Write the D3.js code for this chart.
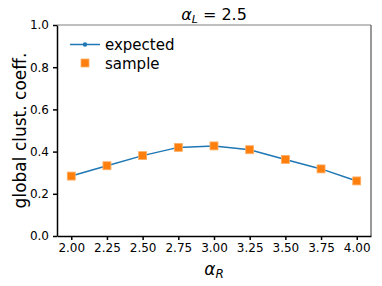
<!DOCTYPE html>
<html>
<head>
<meta charset="utf-8">
<script src="https://cdn.jsdelivr.net/npm/d3@7"></script>
<style>
  body { margin: 0; background: #fff; }
  text { font-family: "DejaVu Sans", sans-serif; fill: #000; }
</style>
</head>
<body>
<svg width="382" height="286"></svg>
<script>
var alphaR = [2.00, 2.25, 2.50, 2.75, 3.00, 3.25, 3.50, 3.75, 4.00];
var expected = [0.284, 0.333, 0.381, 0.420, 0.427, 0.409, 0.363, 0.318, 0.261];
var sample = [0.284, 0.333, 0.381, 0.420, 0.427, 0.409, 0.363, 0.318, 0.261];
var xTicks = [2.00, 2.25, 2.50, 2.75, 3.00, 3.25, 3.50, 3.75, 4.00];
var yTicks = [0.0, 0.2, 0.4, 0.6, 0.8, 1.0];

function main() {
    var svg = d3.select('svg');
    var left = 57, right = 371, top = 25, bottom = 236;

    var xScale = d3.scaleLinear().domain([1.9, 4.1]).range([left, right]);
    var yScale = d3.scaleLinear().domain([0, 1]).range([bottom, top]);

    // frame: top and right lighter
    svg.append('line').attr('x1', left).attr('x2', right).attr('y1', top).attr('y2', top)
       .attr('stroke', '#aaaaaa').attr('stroke-width', 1.5);
    svg.append('line').attr('x1', right).attr('x2', right).attr('y1', top).attr('y2', bottom)
       .attr('stroke', '#555555').attr('stroke-width', 1.2);

    var xAxis = svg.append('g') //x axis
        .attr('transform', 'translate(0,' + bottom + ')')
        .call(d3.axisBottom(xScale).tickValues(xTicks).tickFormat(d3.format('.2f')).tickSize(4).tickSizeOuter(0));
    var yAxis = svg.append('g') //y axis
        .attr('transform', 'translate(' + left + ',0)')
        .call(d3.axisLeft(yScale).tickValues(yTicks).tickFormat(d3.format('.1f')).tickSize(4).tickSizeOuter(0));

    [xAxis, yAxis].forEach(function(ax) {
        ax.select('.domain').attr('stroke', '#000').attr('stroke-width', 1.5);
        ax.selectAll('.tick line').attr('stroke', '#000').attr('stroke-width', 1.5);
        ax.selectAll('.tick text').style('font-size', '12px').style('font-family', '"DejaVu Sans", sans-serif');
    });
    xAxis.selectAll('.tick text').attr('y', 7);
    yAxis.selectAll('.tick text').attr('x', -8);

    // expected line
    var line = d3.line()
        .x(function(d, i) { return xScale(alphaR[i]); })
        .y(function(d) { return yScale(d); });
    svg.append('path').datum(expected)
       .attr('d', line).attr('fill', 'none')
       .attr('stroke', '#1f77b4').attr('stroke-width', 1.5);
    svg.selectAll('.dot').data(expected).enter().append('circle')
       .attr('cx', function(d, i) { return xScale(alphaR[i]); })
       .attr('cy', function(d) { return yScale(d); })
       .attr('r', 2).attr('fill', '#1f77b4');

    // sample squares
    var s = 8;
    svg.selectAll('.sq').data(sample).enter().append('rect')
       .attr('x', function(d, i) { return xScale(alphaR[i]) - s / 2; })
       .attr('y', function(d) { return yScale(d) - s / 2; })
       .attr('width', s).attr('height', s)
       .attr('fill', '#ff7f0e')
       .attr('stroke', '#ffb066').attr('stroke-width', 0.8);

    // legend
    svg.append('line').attr('x1', 70).attr('x2', 100).attr('y1', 44.5).attr('y2', 44.5)
       .attr('stroke', '#1f77b4').attr('stroke-width', 1.5);
    svg.append('circle').attr('cx', 85).attr('cy', 44.5).attr('r', 2.2).attr('fill', '#1f77b4');
    svg.append('rect').attr('x', 85 - s / 2).attr('y', 63 - s / 2).attr('width', s).attr('height', s)
       .attr('fill', '#ff7f0e').attr('stroke', '#ffb066').attr('stroke-width', 0.8);
    svg.append('text').attr('x', 105).attr('y', 50).style('font-size', '15px').text('expected');
    svg.append('text').attr('x', 105).attr('y', 68.5).style('font-size', '15px').text('sample');

    // title
    var t = svg.append('text').attr('x', (left + right) / 2).attr('y', 20)
       .attr('text-anchor', 'middle').style('font-size', '16px');
    t.append('tspan').style('font-style', 'italic').text('α');
    t.append('tspan').style('font-style', 'italic').style('font-size', '11px').attr('dy', 3).text('L');
    t.append('tspan').attr('dy', -3).text(' = 2.5');

    // x label
    var xl = svg.append('text').attr('x', (left + right) / 2).attr('y', 275)
       .attr('text-anchor', 'middle').style('font-size', '17px');
    xl.append('tspan').style('font-style', 'italic').text('α');
    xl.append('tspan').style('font-style', 'italic').style('font-size', '12px').attr('dy', 3).text('R');

    // y label
    svg.append('text')
       .attr('transform', 'translate(26,' + ((top + bottom) / 2) + ') rotate(-90)')
       .attr('text-anchor', 'middle').style('font-size', '17px')
       .text('global clust. coeff.');
}
main();
</script>
</body>
</html>
